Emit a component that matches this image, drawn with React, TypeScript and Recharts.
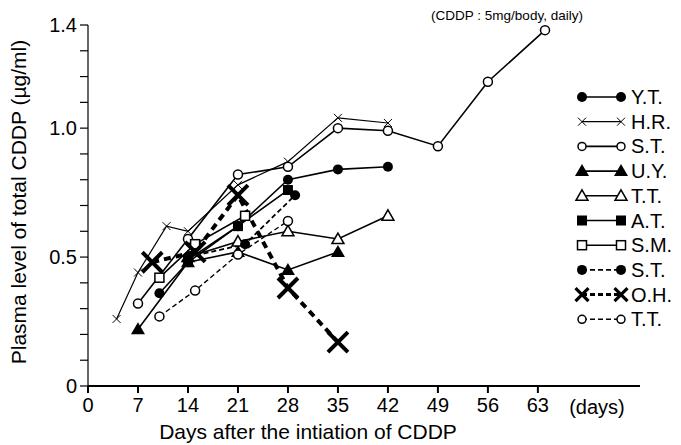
import { LineChart, Line, XAxis, YAxis } from 'recharts'

type Pt = { day: number; v: number }

// plasma CDDP level (µg/ml) per patient, by day
const yt: Pt[] = [
  { day: 10, v: 0.36 }, { day: 14, v: 0.48 }, { day: 21, v: 0.62 },
  { day: 28, v: 0.8 }, { day: 35, v: 0.84 }, { day: 42, v: 0.85 },
]
const hr: Pt[] = [
  { day: 4, v: 0.26 }, { day: 7, v: 0.44 }, { day: 11, v: 0.62 }, { day: 14, v: 0.6 },
  { day: 21, v: 0.78 }, { day: 28, v: 0.87 }, { day: 35, v: 1.04 }, { day: 42, v: 1.02 },
]
const st: Pt[] = [
  { day: 7, v: 0.32 }, { day: 14, v: 0.57 }, { day: 21, v: 0.82 }, { day: 28, v: 0.85 },
  { day: 35, v: 1.0 }, { day: 42, v: 0.99 }, { day: 49, v: 0.93 }, { day: 56, v: 1.18 },
  { day: 64, v: 1.38 },
]
const uy: Pt[] = [
  { day: 7, v: 0.22 }, { day: 14, v: 0.48 }, { day: 21, v: 0.52 }, { day: 28, v: 0.45 }, { day: 35, v: 0.52 },
]
const tt: Pt[] = [
  { day: 14, v: 0.5 }, { day: 21, v: 0.56 }, { day: 28, v: 0.6 }, { day: 35, v: 0.57 }, { day: 42, v: 0.66 },
]
const at: Pt[] = [{ day: 14, v: 0.49 }, { day: 21, v: 0.62 }, { day: 28, v: 0.76 }]
const sm: Pt[] = [{ day: 10, v: 0.42 }, { day: 15, v: 0.55 }, { day: 22, v: 0.66 }]
const st2: Pt[] = [{ day: 14, v: 0.5 }, { day: 22, v: 0.55 }, { day: 29, v: 0.74 }]
const oh: Pt[] = [
  { day: 9, v: 0.48 }, { day: 15, v: 0.52 }, { day: 21, v: 0.74 }, { day: 28, v: 0.38 }, { day: 35, v: 0.17 },
]
const tt2: Pt[] = [{ day: 10, v: 0.27 }, { day: 15, v: 0.37 }, { day: 21, v: 0.51 }, { day: 28, v: 0.64 }]

const xTicks = [0, 7, 14, 21, 28, 35, 42, 49, 56, 63]
const yTicks = [0, 0.1, 0.2, 0.3, 0.4, 0.5, 0.6, 0.7, 0.8, 0.9, 1.0, 1.1, 1.2, 1.3, 1.4]
const yLabels: Record<string, string> = { '0': '0', '0.5': '0.5', '1': '1.0', '1.4': '1.4' }

type Kind = 'dot' | 'x' | 'ring' | 'tri' | 'otri' | 'sq' | 'osq' | 'bigx'

const series: { name: string; data: Pt[]; kind: Kind; dash?: string; width: number }[] = [
  { name: 'Y.T.', data: yt, kind: 'dot', width: 1.6 },
  { name: 'H.R.', data: hr, kind: 'x', width: 1.2 },
  { name: 'S.T.', data: st, kind: 'ring', width: 1.6 },
  { name: 'U.Y.', data: uy, kind: 'tri', width: 1.6 },
  { name: 'T.T.', data: tt, kind: 'otri', width: 1.6 },
  { name: 'A.T.', data: at, kind: 'sq', width: 1.6 },
  { name: 'S.M.', data: sm, kind: 'osq', width: 1.6 },
  { name: 'S.T.', data: st2, kind: 'dot', dash: '5 3', width: 1.8 },
  { name: 'O.H.', data: oh, kind: 'bigx', dash: '7 5', width: 4 },
  { name: 'T.T.', data: tt2, kind: 'ring', dash: '5 3', width: 1.4 },
]

const font = '"Liberation Sans", Arial, sans-serif'

function Marker({ kind, x, y, small }: { kind: Kind; x: number; y: number; small?: boolean }) {
  switch (kind) {
    case 'dot':
      return <circle cx={x} cy={y} r={5} fill="#000" />
    case 'ring':
      return <circle cx={x} cy={y} r={small ? 4 : 4.5} fill="#fff" stroke="#000" strokeWidth={1.5} />
    case 'x':
      return (
        <path d={`M${x - 4},${y - 4}L${x + 4},${y + 4}M${x - 4},${y + 4}L${x + 4},${y - 4}`} stroke="#000" strokeWidth={1} />
      )
    case 'bigx': {
      const h = small ? 6.5 : 10
      return (
        <path d={`M${x - h},${y - h}L${x + h},${y + h}M${x - h},${y + h}L${x + h},${y - h}`} stroke="#000" strokeWidth={small ? 3.2 : 4} />
      )
    }
    case 'tri':
      return <path d={`M${x},${y - 7}L${x + 7},${y + 5}L${x - 7},${y + 5}Z`} fill="#000" />
    case 'otri':
      return <path d={`M${x},${y - 6}L${x + 6},${y + 4.5}L${x - 6},${y + 4.5}Z`} fill="#fff" stroke="#000" strokeWidth={1.5} />
    case 'sq':
      return <rect x={x - 5} y={y - 5} width={10} height={10} fill="#000" />
    case 'osq':
      return <rect x={x - 4.5} y={y - 4.5} width={9} height={9} fill="#fff" stroke="#000" strokeWidth={1.5} />
  }
}

function legend() {
  return (
    <g>
      {series.map((s, i) => {
        const y = 97 + i * 24.7
        return (
          <g key={i}>
            <line x1={582} x2={621} y1={y} y2={y} stroke="#000" strokeWidth={Math.min(s.width, 3)} strokeDasharray={s.dash ? '5 3' : undefined} />
            <Marker kind={s.kind} x={582} y={y} small />
            <Marker kind={s.kind} x={621} y={y} small />
            <text x={631} y={y + 7} fontSize={20} fontFamily={font}>{s.name}</text>
          </g>
        )
      })}
    </g>
  )
}

export default function App() {
  return (
    <div style={{ position: 'absolute', left: 0, top: 0, background: '#fff' }}>
      <LineChart width={681} height={445} margin={{ top: 25, right: 41, left: 0, bottom: 0 }}>
        <XAxis
          type="number"
          dataKey="day"
          domain={[0, 77.3]}
          ticks={xTicks}
          allowDataOverflow
          tickSize={7}
          tickMargin={5}
          height={59}
          stroke="#000"
          strokeWidth={2}
          tick={{ fontSize: 20, fill: '#000', fontFamily: font }}
        />
        <YAxis
          type="number"
          dataKey="v"
          domain={[0, 1.4]}
          ticks={yTicks}
          interval={0}
          width={88}
          tickSize={8}
          tickMargin={3}
          stroke="#000"
          strokeWidth={1.2}
          tickFormatter={(v: number) => yLabels[String(Math.round(v * 10) / 10)] ?? ''}
          tick={{ fontSize: 20, fill: '#000', fontFamily: font }}
        />
        {series.map((s, i) => (
          <Line
            key={i}
            data={s.data}
            dataKey="v"
            type="linear"
            stroke="#000"
            strokeWidth={s.width}
            strokeDasharray={s.dash}
            isAnimationActive={false}
            dot={(p: any) => <Marker key={`${i}-${p.index}`} kind={s.kind} x={p.cx} y={p.cy} />}
            activeDot={false}
          />
        ))}
        <text x={18} y={202} transform="rotate(-90 18 202)" textAnchor="middle" dominantBaseline="central" fontSize={21} fontFamily={font}>
          Plasma level of total CDDP (µg/ml)
        </text>
        <text x={308} y={439} textAnchor="middle" fontSize={21} fontFamily={font}>
          Days after the intiation of CDDP
        </text>
        <text x={597} y={414} textAnchor="middle" fontSize={20} fontFamily={font}>
          (days)
        </text>
        <text x={507} y={20} textAnchor="middle" fontSize={13.5} fontFamily={font}>
          (CDDP : 5mg/body, daily)
        </text>
        {legend()}
      </LineChart>
    </div>
  )
}
